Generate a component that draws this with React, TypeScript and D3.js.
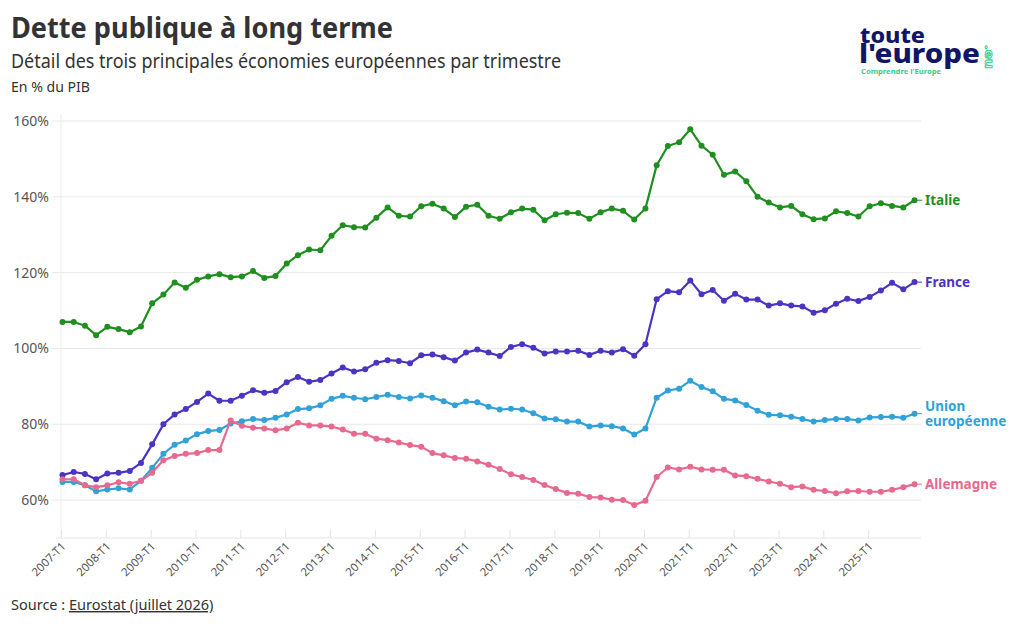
import React from "react";
import * as d3 from "d3";

const quarters: string[] = [];
for (let y = 2007; y <= 2026; y++) {
  for (let q = 1; q <= 4; q++) {
    if (y === 2026 && q > 1) break;
    quarters.push(`${y}-T${q}`);
  }
}

const tickLabels = [
  "2007-T1", "2008-T1", "2009-T1", "2010-T1", "2011-T1", "2012-T1", "2013-T1",
  "2014-T1", "2015-T1", "2016-T1", "2017-T1", "2018-T1", "2019-T1", "2020-T1",
  "2021-T1", "2022-T1", "2023-T1", "2024-T1", "2025-T1",
];

const yTicks = [60, 80, 100, 120, 140, 160];

const italie = [
  107.0, 107.0, 106.0, 103.5, 105.7, 105.1, 104.3, 105.8, 111.9, 114.2, 117.4, 116.0,
  118.1, 119.0, 119.6, 118.8, 119.0, 120.4, 118.6, 119.1, 122.4, 124.6, 126.1, 125.9,
  129.7, 132.5, 132.0, 131.9, 134.5, 137.2, 135.0, 134.8, 137.5, 138.2, 136.9, 134.7,
  137.4, 137.9, 135.0, 134.2, 135.9, 136.9, 136.6, 133.8, 135.4, 135.8, 135.7, 134.2,
  135.9, 136.9, 136.3, 134.0, 136.9, 148.3, 153.4, 154.4, 157.8, 153.5, 151.1, 145.8,
  146.7, 144.1, 140.0, 138.5, 137.2, 137.6, 135.4, 134.1, 134.3, 136.2, 135.7, 134.8,
  137.5, 138.3, 137.6, 137.2, 139.1,
];

const france = [
  66.6, 67.4, 66.9, 65.5, 67.0, 67.2, 67.7, 69.8, 74.7, 80.0, 82.6, 84.0,
  85.9, 88.1, 86.2, 86.2, 87.5, 89.0, 88.3, 88.8, 91.1, 92.5, 91.2, 91.7,
  93.4, 95.0, 93.9, 94.5, 96.2, 96.9, 96.7, 96.1, 98.2, 98.4, 97.7, 96.8,
  98.9, 99.7, 98.9, 98.0, 100.4, 101.1, 100.2, 98.7, 99.2, 99.2, 99.4, 98.3,
  99.4, 98.9, 99.8, 98.1, 101.1, 113.0, 115.1, 114.8, 117.9, 114.3, 115.4, 112.6,
  114.4, 112.9, 112.9, 111.3, 111.9, 111.3, 111.1, 109.4, 110.1, 111.8, 113.1, 112.5,
  113.6, 115.3, 117.3, 115.6, 117.5,
];

const ue = [
  64.8, 64.8, 63.9, 62.3, 62.8, 63.1, 62.8, 65.1, 68.5, 72.2, 74.6, 75.7,
  77.4, 78.2, 78.5, 80.2, 80.8, 81.4, 81.1, 81.7, 82.6, 84.0, 84.2, 85.0,
  86.7, 87.5, 87.0, 86.6, 87.2, 87.8, 87.2, 86.8, 87.6, 87.0, 86.1, 85.0,
  86.0, 85.8, 84.6, 83.9, 84.1, 83.9, 82.9, 81.5, 81.3, 80.7, 80.7, 79.4,
  79.7, 79.5, 78.9, 77.3, 78.9, 87.0, 88.9, 89.4, 91.5, 89.8, 88.7, 86.7,
  86.3, 85.1, 83.6, 82.5, 82.4, 82.0, 81.4, 80.7, 81.1, 81.4, 81.4, 81.0,
  81.8, 81.9, 82.0, 81.7, 82.8,
];

const allemagne = [
  65.5, 65.5, 63.9, 63.4, 63.9, 64.7, 64.3, 65.1, 67.2, 70.5, 71.6, 72.2,
  72.4, 73.2, 73.2, 81.0, 79.6, 79.1, 78.9, 78.4, 78.9, 80.4, 79.7, 79.7,
  79.4, 78.6, 77.5, 77.5, 76.2, 75.8, 75.2, 74.5, 74.1, 72.4, 71.8, 71.1,
  70.9, 70.2, 69.3, 68.2, 66.8, 66.1, 65.3, 64.0, 62.9, 61.9, 61.7, 60.8,
  60.7, 60.1, 60.0, 58.7, 59.8, 66.1, 68.6, 68.1, 68.8, 68.1, 68.0, 68.0,
  66.5, 66.3, 65.6, 64.9, 64.3, 63.4, 63.6, 62.7, 62.4, 61.8, 62.3, 62.4,
  62.2, 62.2, 62.7, 63.4, 64.2,
];

const seriesNames = ["Italie", "France", "Union européenne", "Allemagne"];
const seriesColors = ["#1f8f1f", "#4b33c4", "#30a2d8", "#e8698e"];
const seriesValues = [italie, france, ue, allemagne];

const FONT = "'Noto Sans', 'DejaVu Sans', sans-serif";

export default function App() {
  const W = 1020;
  const H = 624;
  const x = d3.scaleLinear().domain([0, quarters.length - 1]).range([62.5, 914.5]);
  const y = d3.scaleLinear().domain([50, 160]).range([538, 121]);
  const line = d3
    .line<number>()
    .x((_, i) => x(i))
    .y((d) => y(d))
    .curve(d3.curveLinear);

  const labelLines: Record<string, string[]> = {
    "Italie": ["Italie"],
    "France": ["France"],
    "Union européenne": ["Union", "européenne"],
    "Allemagne": ["Allemagne"],
  };

  return (
    <svg
      width={W}
      height={H}
      style={{ position: "absolute", left: 0, top: 0, background: "#fff" }}
      fontFamily={FONT}
    >
      <rect width={W} height={H} fill="#fff" />
      {/* Titles */}
      <text x={11} y={38} fontSize={29} fontWeight={700} fill="#333" textLength={382} lengthAdjust="spacingAndGlyphs">
        Dette publique à long terme
      </text>
      <text x={11} y={68} fontSize={19} fill="#333" textLength={550} lengthAdjust="spacingAndGlyphs">
        Détail des trois principales économies européennes par trimestre
      </text>
      <text x={11} y={92} fontSize={13.5} fill="#333" textLength={79} lengthAdjust="spacingAndGlyphs">
        En % du PIB
      </text>

      {/* Logo */}
      <g>
        <text x={860} y={43} fontSize={21} fontWeight={800} fill="#111566" textLength={65} lengthAdjust="spacingAndGlyphs">
          toute
        </text>
        <text x={859} y={63} fontSize={26} fontWeight={800} fill="#111566" textLength={121} lengthAdjust="spacingAndGlyphs">
          l'europe
        </text>
        <text x={861} y={73.5} fontSize={6.5} fontWeight={700} fill="#2fcf8e" textLength={80} lengthAdjust="spacingAndGlyphs">
          Comprendre l'Europe
        </text>
        <text
          transform="translate(985,45) rotate(90)"
          fontSize={13}
          fontWeight={700}
          fill="#fff"
          stroke="#2fcf8e"
          strokeWidth={0.9}
          textLength={24}
          lengthAdjust="spacingAndGlyphs"
        >
          .eu
        </text>
      </g>

      {/* Grid */}
      {yTicks.map((t) => (
        <g key={t}>
          <line x1={52} x2={921} y1={y(t)} y2={y(t)} stroke="#e9e9e9" strokeWidth={1} />
          <text x={49} y={y(t) + 5} fontSize={14} fill="#555" textAnchor="end">
            {t}%
          </text>
        </g>
      ))}
      <line x1={61} x2={61} y1={114} y2={538} stroke="#ececec" strokeWidth={1} />
      <line x1={56} x2={921} y1={538} y2={538} stroke="#e6e6e6" strokeWidth={1} />
      {tickLabels.map((lab, k) => {
        const xi = x(k * 4) - 1;
        return (
          <g key={lab}>
            <line x1={xi} x2={xi} y1={530} y2={538} stroke="#e3e3e3" strokeWidth={1} />
            <text
              transform={`translate(${xi + 5},${547}) rotate(-45)`}
              fontSize={11.5}
              fill="#555"
              textAnchor="end"
            >
              {lab}
            </text>
          </g>
        );
      })}

      {/* Series */}
      {seriesValues.map((vals, s) => (
        <g key={seriesNames[s]}>
          <path d={line(vals) || ""} fill="none" stroke={seriesColors[s]} strokeWidth={2.2} strokeLinejoin="round" />
          {vals.map((v, i) => (
            <circle key={i} cx={x(i)} cy={y(v)} r={3} fill={seriesColors[s]} />
          ))}
        </g>
      ))}

      {/* End labels */}
      {seriesValues.map((vals, s) => {
        const last = vals[vals.length - 1];
        const yy = y(last);
        const lines = labelLines[seriesNames[s]];
        const offset = lines.length > 1 ? -7.5 : 0;
        return (
          <g key={"lab" + s}>
            <line x1={x(vals.length - 1)} x2={922} y1={yy} y2={yy} stroke={seriesColors[s]} strokeWidth={1} />
            <text x={925} y={yy + 5 + offset} fontSize={13.5} fontWeight={700} fill={seriesColors[s]}>
              {lines.map((l, j) => (
                <tspan key={j} x={925} dy={j === 0 ? 0 : 15}>
                  {l}
                </tspan>
              ))}
            </text>
          </g>
        );
      })}

      {/* Source */}
      <text x={11} y={610} fontSize={14.5} fill="#333">
        Source :{" "}
        <tspan textDecoration="underline" style={{ textDecoration: "underline" }}>
          Eurostat (juillet 2026)
        </tspan>
      </text>
    </svg>
  );
}
